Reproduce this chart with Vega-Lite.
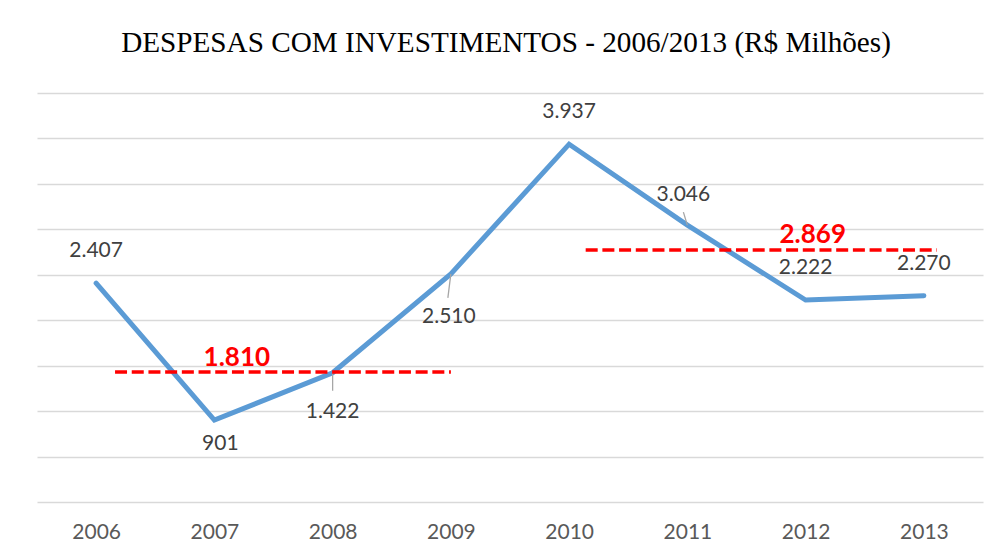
{
  "$schema": "https://vega.github.io/schema/vega-lite/v6.json",
  "width": 946,
  "height": 409,
  "autosize": {"type": "none"},
  "padding": {"left": 37, "top": 93, "right": 20, "bottom": 56},
  "background": "#ffffff",
  "title": {
    "text": "DESPESAS COM INVESTIMENTOS - 2006/2013 (R$ Milhões)",
    "font": "Liberation Serif",
    "fontSize": 29.2,
    "fontWeight": "normal",
    "color": "#000000",
    "anchor": "middle",
    "baseline": "alphabetic",
    "offset": 12,
    "dx": -4
  },
  "config": {
    "view": {"stroke": null},
    "locale": {"number": {"decimal": ",", "thousands": ".", "grouping": [3], "currency": ["R$ ", ""]}}
  },
  "datasets": {
    "main": [
      {"year": 2006, "value": 2407},
      {"year": 2007, "value": 901},
      {"year": 2008, "value": 1422},
      {"year": 2009, "value": 2510},
      {"year": 2010, "value": 3937},
      {"year": 2011, "value": 3046},
      {"year": 2012, "value": 2222},
      {"year": 2013, "value": 2270}
    ],
    "avg": [
      {"start": 2006.16, "end": 2009.0, "level": 1430, "avg": 1810, "labelYear": 2007.19},
      {"start": 2010.14, "end": 2013.11, "level": 2773, "avg": 2869, "labelYear": 2012.06}
    ]
  },
  "layer": [
    {
      "data": {"name": "main"},
      "mark": {"type": "line", "color": "#5B9BD5", "strokeWidth": 5, "strokeCap": "round", "strokeJoin": "miter"},
      "encoding": {
        "x": {
          "field": "year", "type": "quantitative",
          "scale": {"domain": [2005.5, 2013.5], "nice": false, "zero": false},
          "axis": {
            "title": null, "values": [2006, 2007, 2008, 2009, 2010, 2011, 2012, 2013],
            "format": "d", "domain": false, "ticks": false, "grid": false,
            "labelFont": "Lato", "labelFontSize": 21, "labelColor": "#595959",
            "labelBaseline": "middle", "labelPadding": 30, "labelFlush": false
          }
        },
        "y": {
          "field": "value", "type": "quantitative",
          "scale": {"domain": [0, 4500], "nice": false},
          "axis": {
            "title": null, "labels": false, "ticks": false, "domain": false,
            "values": [0, 500, 1000, 1500, 2000, 2500, 3000, 3500, 4000, 4500],
            "grid": true, "gridColor": "#D9D9D9", "gridWidth": 1.4
          }
        }
      }
    },
    {
      "data": {"name": "main"},
      "transform": [{"filter": "datum.year == 2008"}],
      "mark": {"type": "rule", "color": "#A6A6A6", "strokeWidth": 1.3, "y2Offset": 18},
      "encoding": {
        "x": {"field": "year", "type": "quantitative"},
        "y": {"field": "value", "type": "quantitative"},
        "y2": {"field": "value"}
      }
    },
    {
      "data": {"name": "main"},
      "transform": [{"filter": "datum.year == 2009"}],
      "mark": {"type": "rule", "color": "#A6A6A6", "strokeWidth": 1.3, "y2Offset": 24, "x2Offset": -3},
      "encoding": {
        "x": {"field": "year", "type": "quantitative"},
        "x2": {"field": "year"},
        "y": {"field": "value", "type": "quantitative"},
        "y2": {"field": "value"}
      }
    },
    {
      "data": {"name": "main"},
      "transform": [{"filter": "datum.year == 2011"}],
      "mark": {"type": "rule", "color": "#A6A6A6", "strokeWidth": 1.3, "y2Offset": -13, "x2Offset": -4},
      "encoding": {
        "x": {"field": "year", "type": "quantitative"},
        "x2": {"field": "year"},
        "y": {"field": "value", "type": "quantitative"},
        "y2": {"field": "value"}
      }
    },
    {
      "data": {"name": "avg"},
      "mark": {"type": "rule", "color": "#FF0000", "strokeWidth": 3.5, "strokeDash": [12, 4.7]},
      "encoding": {
        "x": {"field": "start", "type": "quantitative"},
        "x2": {"field": "end"},
        "y": {"field": "level", "type": "quantitative"}
      }
    },
    {
      "data": {"name": "avg"},
      "mark": {"type": "text", "color": "#FF0000", "font": "Lato", "fontSize": 26, "fontWeight": "bold", "baseline": "middle", "dy": -14.5},
      "encoding": {
        "x": {"field": "labelYear", "type": "quantitative"},
        "y": {"field": "level", "type": "quantitative"},
        "text": {"field": "avg", "type": "quantitative", "format": ",d"}
      }
    },
    {
      "data": {"name": "main"},
      "transform": [{"filter": "datum.year == 2006 || datum.year == 2010 || datum.year == 2012 || datum.year == 2013"}],
      "mark": {"type": "text", "color": "#404040", "font": "Lato", "fontSize": 21, "baseline": "middle", "dy": -32},
      "encoding": {
        "x": {"field": "year", "type": "quantitative"},
        "y": {"field": "value", "type": "quantitative"},
        "text": {"field": "value", "type": "quantitative", "format": ",d"}
      }
    },
    {
      "data": {"name": "main"},
      "transform": [{"filter": "datum.year == 2011"}],
      "mark": {"type": "text", "color": "#404040", "font": "Lato", "fontSize": 21, "baseline": "middle", "dy": -30, "dx": -4},
      "encoding": {
        "x": {"field": "year", "type": "quantitative"},
        "y": {"field": "value", "type": "quantitative"},
        "text": {"field": "value", "type": "quantitative", "format": ",d"}
      }
    },
    {
      "data": {"name": "main"},
      "transform": [{"filter": "datum.year == 2007"}],
      "mark": {"type": "text", "color": "#404040", "font": "Lato", "fontSize": 21, "baseline": "middle", "dy": 24, "dx": 6},
      "encoding": {
        "x": {"field": "year", "type": "quantitative"},
        "y": {"field": "value", "type": "quantitative"},
        "text": {"field": "value", "type": "quantitative", "format": ",d"}
      }
    },
    {
      "data": {"name": "main"},
      "transform": [{"filter": "datum.year == 2008"}],
      "mark": {"type": "text", "color": "#404040", "font": "Lato", "fontSize": 21, "baseline": "middle", "dy": 39},
      "encoding": {
        "x": {"field": "year", "type": "quantitative"},
        "y": {"field": "value", "type": "quantitative"},
        "text": {"field": "value", "type": "quantitative", "format": ",d"}
      }
    },
    {
      "data": {"name": "main"},
      "transform": [{"filter": "datum.year == 2009"}],
      "mark": {"type": "text", "color": "#404040", "font": "Lato", "fontSize": 21, "baseline": "middle", "dy": 43, "dx": -2},
      "encoding": {
        "x": {"field": "year", "type": "quantitative"},
        "y": {"field": "value", "type": "quantitative"},
        "text": {"field": "value", "type": "quantitative", "format": ",d"}
      }
    }
  ]
}
